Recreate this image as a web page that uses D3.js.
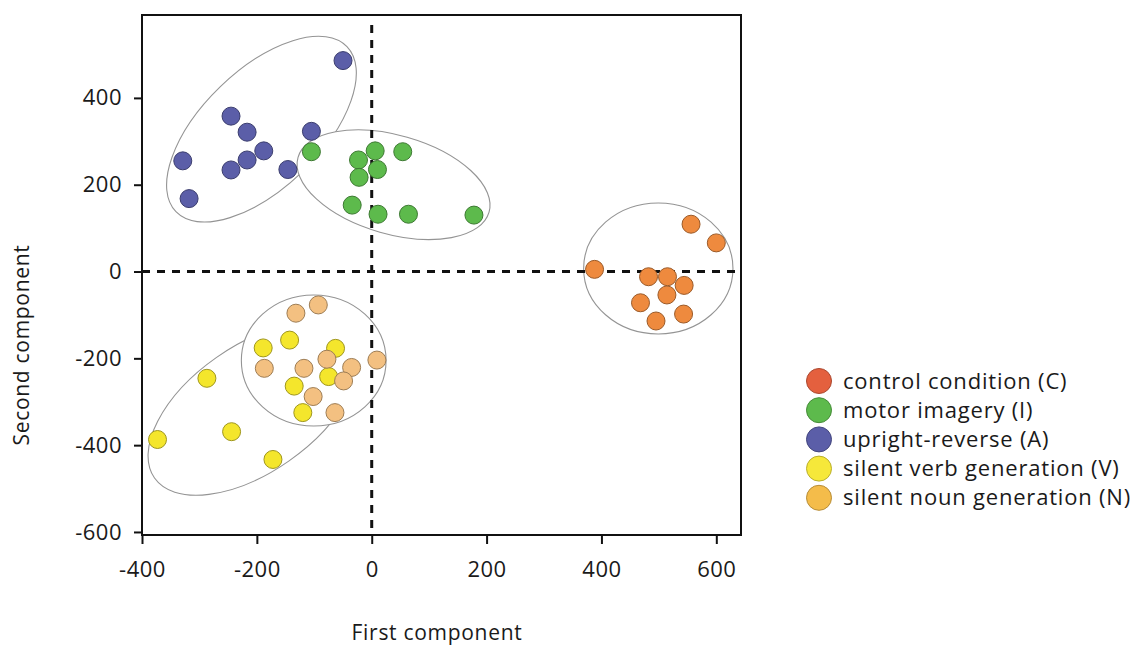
<!DOCTYPE html>
<html>
<head>
<meta charset="utf-8">
<script src="https://cdn.jsdelivr.net/npm/d3@7"></script>
<style>
  body { margin: 0; background: #fff; }
  svg { display: block; }
  text { font-family: 'Open Sans', 'DejaVu Sans', sans-serif; fill: #1a1a1a; }
</style>
</head>
<body>
<div id="chart"></div>
<script>
// PCA scores per task condition (first, second component)
var controlPoints = [[556, 109], [600, 66], [388, 5], [482, -12], [515, -12], [544, -32], [514, -54], [468, -72], [543, -98], [495, -114]]
var imageryPoints = [[-105, 276], [-23, 257], [6, 278], [54, 276], [10, 235], [-22, 217], [-34, 153], [11, 132], [64, 132], [178, 130]]
var uprightPoints = [[-50, 486], [-245, 358], [-217, 321], [-105, 323], [-329, 255], [-188, 278], [-217, 257], [-245, 234], [-146, 235], [-318, 168]]
var verbPoints = [[-143, -158], [-189, -176], [-63, -177], [-75, -242], [-135, -264], [-120, -325], [-287, -246], [-373, -387], [-244, -369], [-172, -433]]
var nounPoints = [[-132, -96], [-93, -77], [-187, -223], [-118, -223], [-78, -202], [-35, -221], [9, -204], [-49, -252], [-102, -288], [-64, -325]]

var seriesNames = ['control condition (C)', 'motor imagery (I)', 'upright-reverse (A)', 'silent verb generation (V)', 'silent noun generation (N)']
var seriesPoints = [controlPoints, imageryPoints, uprightPoints, verbPoints, nounPoints]

// cluster outlines: centre (data units), semi-axes (first-component units), tilt in degrees
var clusterCx = [-207, -101, -192, 38, 499]
var clusterCy = [-317, -205, 328, 200, 7]
var clusterA = [209, 126, 207, 173, 130]
var clusterB = [110, 114, 103, 86, 114]
var clusterTilt = [-35, 0, -44, 16, 0]

var xTicks = [-400, -200, 0, 200, 400, 600]
var yTicks = [-600, -400, -200, 0, 200, 400]

var pointColors = ['#ee8a3e', '#5dba4c', '#5b5ea8', '#f4e62c', '#f3c081']
var swatchColors = ['#e4603e', '#5dba4c', '#5b5ea8', '#f6e83a', '#f4bc4a']

var width = 1141
var height = 645
var frame = { left: 142, right: 741, top: 15, bottom: 535 }

var svg = d3.select('#chart').append('svg')
  .attr('width', width)
  .attr('height', height)

svg.append('rect').attr('width', width).attr('height', height).attr('fill', '#fff')

var x = d3.scaleLinear().domain([-400, 643]).range([frame.left, frame.right])
var y = d3.scaleLinear().domain([-607, 591]).range([frame.bottom, frame.top])
var kx = x(1) - x(0)

// Ellipses first, white filled so later ones cover earlier outlines
svg.append('g')
  .selectAll('ellipse')
  .data(clusterCx.map((cx, i) => ({ cx: cx, cy: clusterCy[i], a: clusterA[i], b: clusterB[i], tilt: clusterTilt[i] })))
  .join('ellipse')
  .attr('transform', d => `translate(${x(d.cx)},${y(d.cy)}) rotate(${d.tilt})`)
  .attr('rx', d => d.a * kx)
  .attr('ry', d => d.b * kx)
  .attr('fill', '#fff')
  .attr('stroke', '#949494')
  .attr('stroke-width', 1.1)

// Zero lines
var dash = svg.append('g')
  .attr('stroke', '#111')
  .attr('stroke-width', 3)
  .attr('stroke-dasharray', '8,7')
dash.append('line')
  .attr('x1', frame.left).attr('x2', frame.right)
  .attr('y1', y(0)).attr('y2', y(0))
dash.append('line')
  .attr('x1', x(0)).attr('x2', x(0))
  .attr('y1', frame.top + 10).attr('y2', frame.bottom)

// Points
seriesPoints.forEach(function (pts, i) {
  svg.append('g')
    .selectAll('circle')
    .data(pts)
    .join('circle')
    .attr('cx', d => x(d[0]))
    .attr('cy', d => y(d[1]))
    .attr('r', 9)
    .attr('fill', pointColors[i])
    .attr('stroke', d3.color(pointColors[i]).darker(1.2))
    .attr('stroke-width', 1)
})

// Frame
svg.append('rect')
  .attr('x', frame.left).attr('y', frame.top)
  .attr('width', frame.right - frame.left)
  .attr('height', frame.bottom - frame.top)
  .attr('fill', 'none')
  .attr('stroke', '#111')
  .attr('stroke-width', 2)

// Axes - plain hyphen for negatives, like the original
var fmt = d => String(d)
var xAxis = svg.append('g')
  .attr('transform', `translate(0,${frame.bottom})`)
  .call(d3.axisBottom(x).tickValues(xTicks).tickSize(9).tickPadding(17).tickFormat(fmt))
var yAxis = svg.append('g')
  .attr('transform', `translate(${frame.left},0)`)
  .call(d3.axisLeft(y).tickValues(yTicks).tickSize(8).tickPadding(12).tickFormat(fmt))

;[xAxis, yAxis].forEach(function (ax) {
  ax.select('.domain').remove()
  ax.selectAll('.tick line').attr('stroke', '#111').attr('stroke-width', 2)
  ax.selectAll('.tick text')
    .style('font-size', '22px')
    .style('letter-spacing', '0.5px')
    .attr('fill', '#1a1a1a')
})

// Axis titles
svg.append('text')
  .attr('x', 437).attr('y', 640)
  .attr('text-anchor', 'middle')
  .style('font-size', '21px')
  .style('letter-spacing', '0.7px')
  .text('First component')
svg.append('text')
  .attr('transform', 'translate(29,345) rotate(-90)')
  .attr('text-anchor', 'middle')
  .style('font-size', '21px')
  .style('letter-spacing', '0.7px')
  .text('Second component')

// Legend
var legend = svg.append('g')
  .selectAll('g')
  .data(seriesNames)
  .join('g')
  .attr('transform', (d, i) => `translate(819,${381 + i * 29.2})`)
legend.append('circle')
  .attr('r', 12.5)
  .attr('fill', (d, i) => swatchColors[i])
  .attr('stroke', (d, i) => d3.color(swatchColors[i]).darker(0.8))
  .attr('stroke-width', 1)
legend.append('text')
  .attr('x', 24)
  .attr('y', 7.5)
  .style('font-size', '22px')
  .style('letter-spacing', '0.8px')
  .text(d => d)
</script>
</body>
</html>
